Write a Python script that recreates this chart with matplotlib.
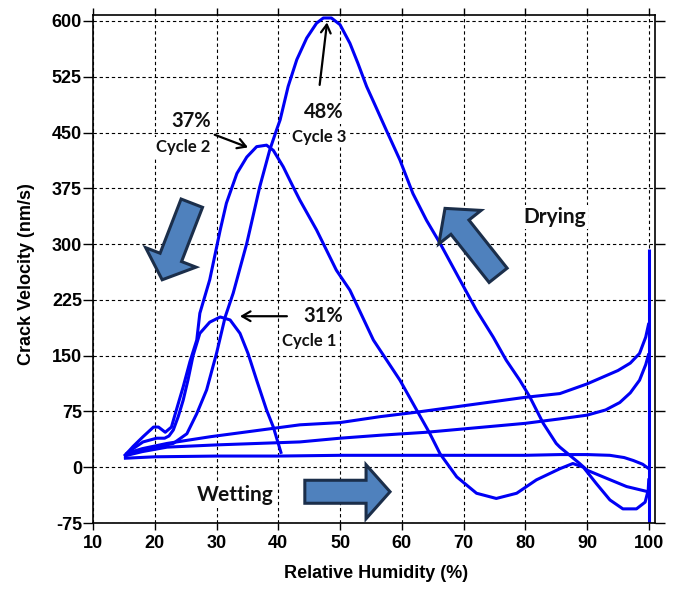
import matplotlib
matplotlib.use('Agg')
import matplotlib.pyplot as plt
from matplotlib.patches import FancyArrowPatch, ArrowStyle

# ---------------- data ----------------
# wetting branches (RH increasing)
wet1_x = [15, 20, 30, 40, 50, 60, 70, 80, 85.6, 90, 93.7, 96, 97.5, 99, 100]
wet1_y = [12, 14, 15, 15, 16, 16, 16, 16, 17, 17, 16, 13, 9, 4, -2]

wet2_x = [15, 18, 22, 30, 43.5, 50, 56.5, 64, 80, 85.6, 90, 93, 95.3, 97, 98.5, 99.5, 100]
wet2_y = [15, 21, 27, 30, 34, 39, 43, 47, 59, 65, 70, 77, 87, 100, 117, 138, 153]

wet3_x = [15, 16, 18, 22, 29, 43.5, 50, 56.5, 62.4, 80, 85.6, 90, 95, 97, 98.5, 99.5, 100]
wet3_y = [15, 20, 25, 32, 41, 57, 60, 68, 74, 94, 99, 112, 130, 140, 153, 175, 194]

# drying branches (RH decreasing)
dry1_x = [40.5, 39.2, 38.1, 36.5, 35.1, 33.8, 32.2, 30.6, 28.9, 27.3, 26.2,
          25.4, 24.6, 23.8, 23, 22.3, 21.6, 20.3, 18.1, 16.5, 15.2]
dry1_y = [18, 54, 77, 117, 153, 180, 198, 202, 195, 180, 150,
          118, 90, 68, 50, 42, 39, 39, 34, 25, 17]

dry2_x = [100, 99.9, 99.4, 98, 95.8, 93.7, 91.5, 89.4, 87.7, 85.6, 81.8, 78.6, 75.3,
          72.1, 68.9, 66.2, 64.5, 62.4, 59.7, 55.4, 51.6, 49.4, 46.2, 43.5, 42.4,
          40.8, 39.2, 38.1, 36.5, 34.9, 33.3, 31.6, 30.6, 28.9, 27.3, 26.8, 25.7,
          24.6, 23.5, 22.7, 21.7, 20.6, 19.8, 18.1, 16.5, 15.4]
dry2_y = [-15, -31, -47, -56, -56, -44, -22, 0, 5, -2, -17, -35, -42,
          -35, -13, 18, 46, 77, 117, 171, 238, 265, 319, 359, 377,
          404, 426, 433, 431, 417, 395, 355, 319, 252, 207, 171, 142,
          108, 77, 54, 47, 54, 54, 41, 28, 18]

dry3_x = [100, 99.9, 96.4, 92.6, 90, 88.8, 85.6, 85, 82.9, 80.7, 79.1, 76.9, 74.8,
          72.1, 69.4, 66.2, 64, 61.8, 59.7, 57.5, 55.5, 54.3, 52.9, 51.6, 50,
          48.6, 47.3, 46.2, 44.6, 43, 41.6, 40.3, 39.7, 38.6, 37, 35.4, 34.9,
          32.7, 31.4, 30, 28.4, 26.8, 25.2, 23, 20.3, 17.6, 15.4]
dry3_y = [-35, -33, -26, -13, -4, 5, 27, 32, 59, 95, 117, 144, 175,
          211, 252, 301, 332, 368, 413, 453, 490, 512, 543, 570, 595,
          604, 604, 597, 577, 548, 512, 467, 453, 426, 377, 319, 301,
          234, 202, 153, 104, 72, 45, 32, 27, 23, 16]

jump_x = [100, 100]
jump_y = [-80, 294]

xticks = [10, 20, 30, 40, 50, 60, 70, 80, 90, 100]
yticks = [-75, 0, 75, 150, 225, 300, 375, 450, 525, 600]

# ---------------- figure ----------------
fig = plt.figure(figsize=(6.77, 5.94), dpi=100)
ax = fig.add_axes([93 / 677, 1 - 523 / 594, (655 - 93) / 677, (523 - 15) / 594])

ax.set_xlim(10, 101)
ax.set_ylim(-75, 608)
ax.set_xticks(xticks)
ax.set_yticks(yticks)
ax.set_axisbelow(True)
ax.grid(True, color='black', linestyle=(0, (3, 2.5)), linewidth=0.8)

tickfont = dict(family='Liberation Sans', weight='bold', size=13)
ax.set_xticklabels([str(t) for t in xticks], fontdict=tickfont)
ax.set_yticklabels([str(t) for t in yticks], fontdict=tickfont)
ax.tick_params(axis='x', direction='out', length=5, width=1, pad=4, top=True)
ax.tick_params(axis='y', direction='out', length=7, width=1, pad=1, right=True)
for s in ax.spines.values():
    s.set_linewidth(1.2)

ax.set_xlabel('Relative Humidity (%)', fontdict=tickfont)
ax.set_ylabel('Crack Velocity (nm/s)', fontdict=tickfont)
ax.xaxis.set_label_coords(0.503, -0.083)
ax.yaxis.set_label_coords(-0.103, 0.49)

lc = '#0000F5'
lw = 2.2
for xs, ys in [(wet1_x, wet1_y), (wet2_x, wet2_y), (wet3_x, wet3_y),
               (dry1_x, dry1_y), (dry2_x, dry2_y), (dry3_x, dry3_y),
               (jump_x, jump_y)]:
    ax.plot(xs, ys, color=lc, linewidth=lw, zorder=2, solid_capstyle='butt',
            solid_joinstyle='round')

# ---------------- annotations ----------------
afont = 'Lato'
box = dict(facecolor='white', edgecolor='none', pad=1.5)
def label(x, y, s, size, weight='bold'):
    ax.text(x, y, s, ha='center', va='center', fontsize=size, fontweight=weight,
            family=afont, color='#111111', bbox=box, zorder=1.5)

label(25.9, 465, '37%', 14.5)
label(24.6, 430, 'Cycle 2', 12)
label(47.3, 477, '48%', 14.5)
label(46.7, 444, 'Cycle 3', 12)
label(47.2, 203, '31%', 14.5)
label(45.0, 170, 'Cycle 1', 12)
label(33.0, -38, 'Wetting', 15)
label(84.8, 336, 'Drying', 15)

for (tx, ty), (hx, hy) in [((29.7, 447), (35.1, 430)),
                           ((46.7, 514), (47.9, 598)),
                           ((41.4, 203), (33.8, 203))]:
    ax.annotate('', xy=(hx, hy), xytext=(tx, ty),
                arrowprops=dict(arrowstyle='->,head_length=0.6,head_width=0.35',
                                color='black', lw=1.6, shrinkA=0, shrinkB=0),
                zorder=4)

bstyle = ArrowStyle.Simple(head_length=24, head_width=54, tail_width=23)
for (tx, ty), (hx, hy) in [((26.0, 355), (21.2, 252)),
                           ((75.6, 258), (67.0, 348)),
                           ((44.3, -33), (58.1, -33))]:
    p = FancyArrowPatch((tx, ty), (hx, hy), arrowstyle=bstyle, mutation_scale=0.72,
                        facecolor='#4F81BD', edgecolor='#1B2E4A', linewidth=2.2,
                        shrinkA=0, shrinkB=0, zorder=3, joinstyle='miter')
    ax.add_patch(p)

fig.savefig('out.png', dpi=100)
